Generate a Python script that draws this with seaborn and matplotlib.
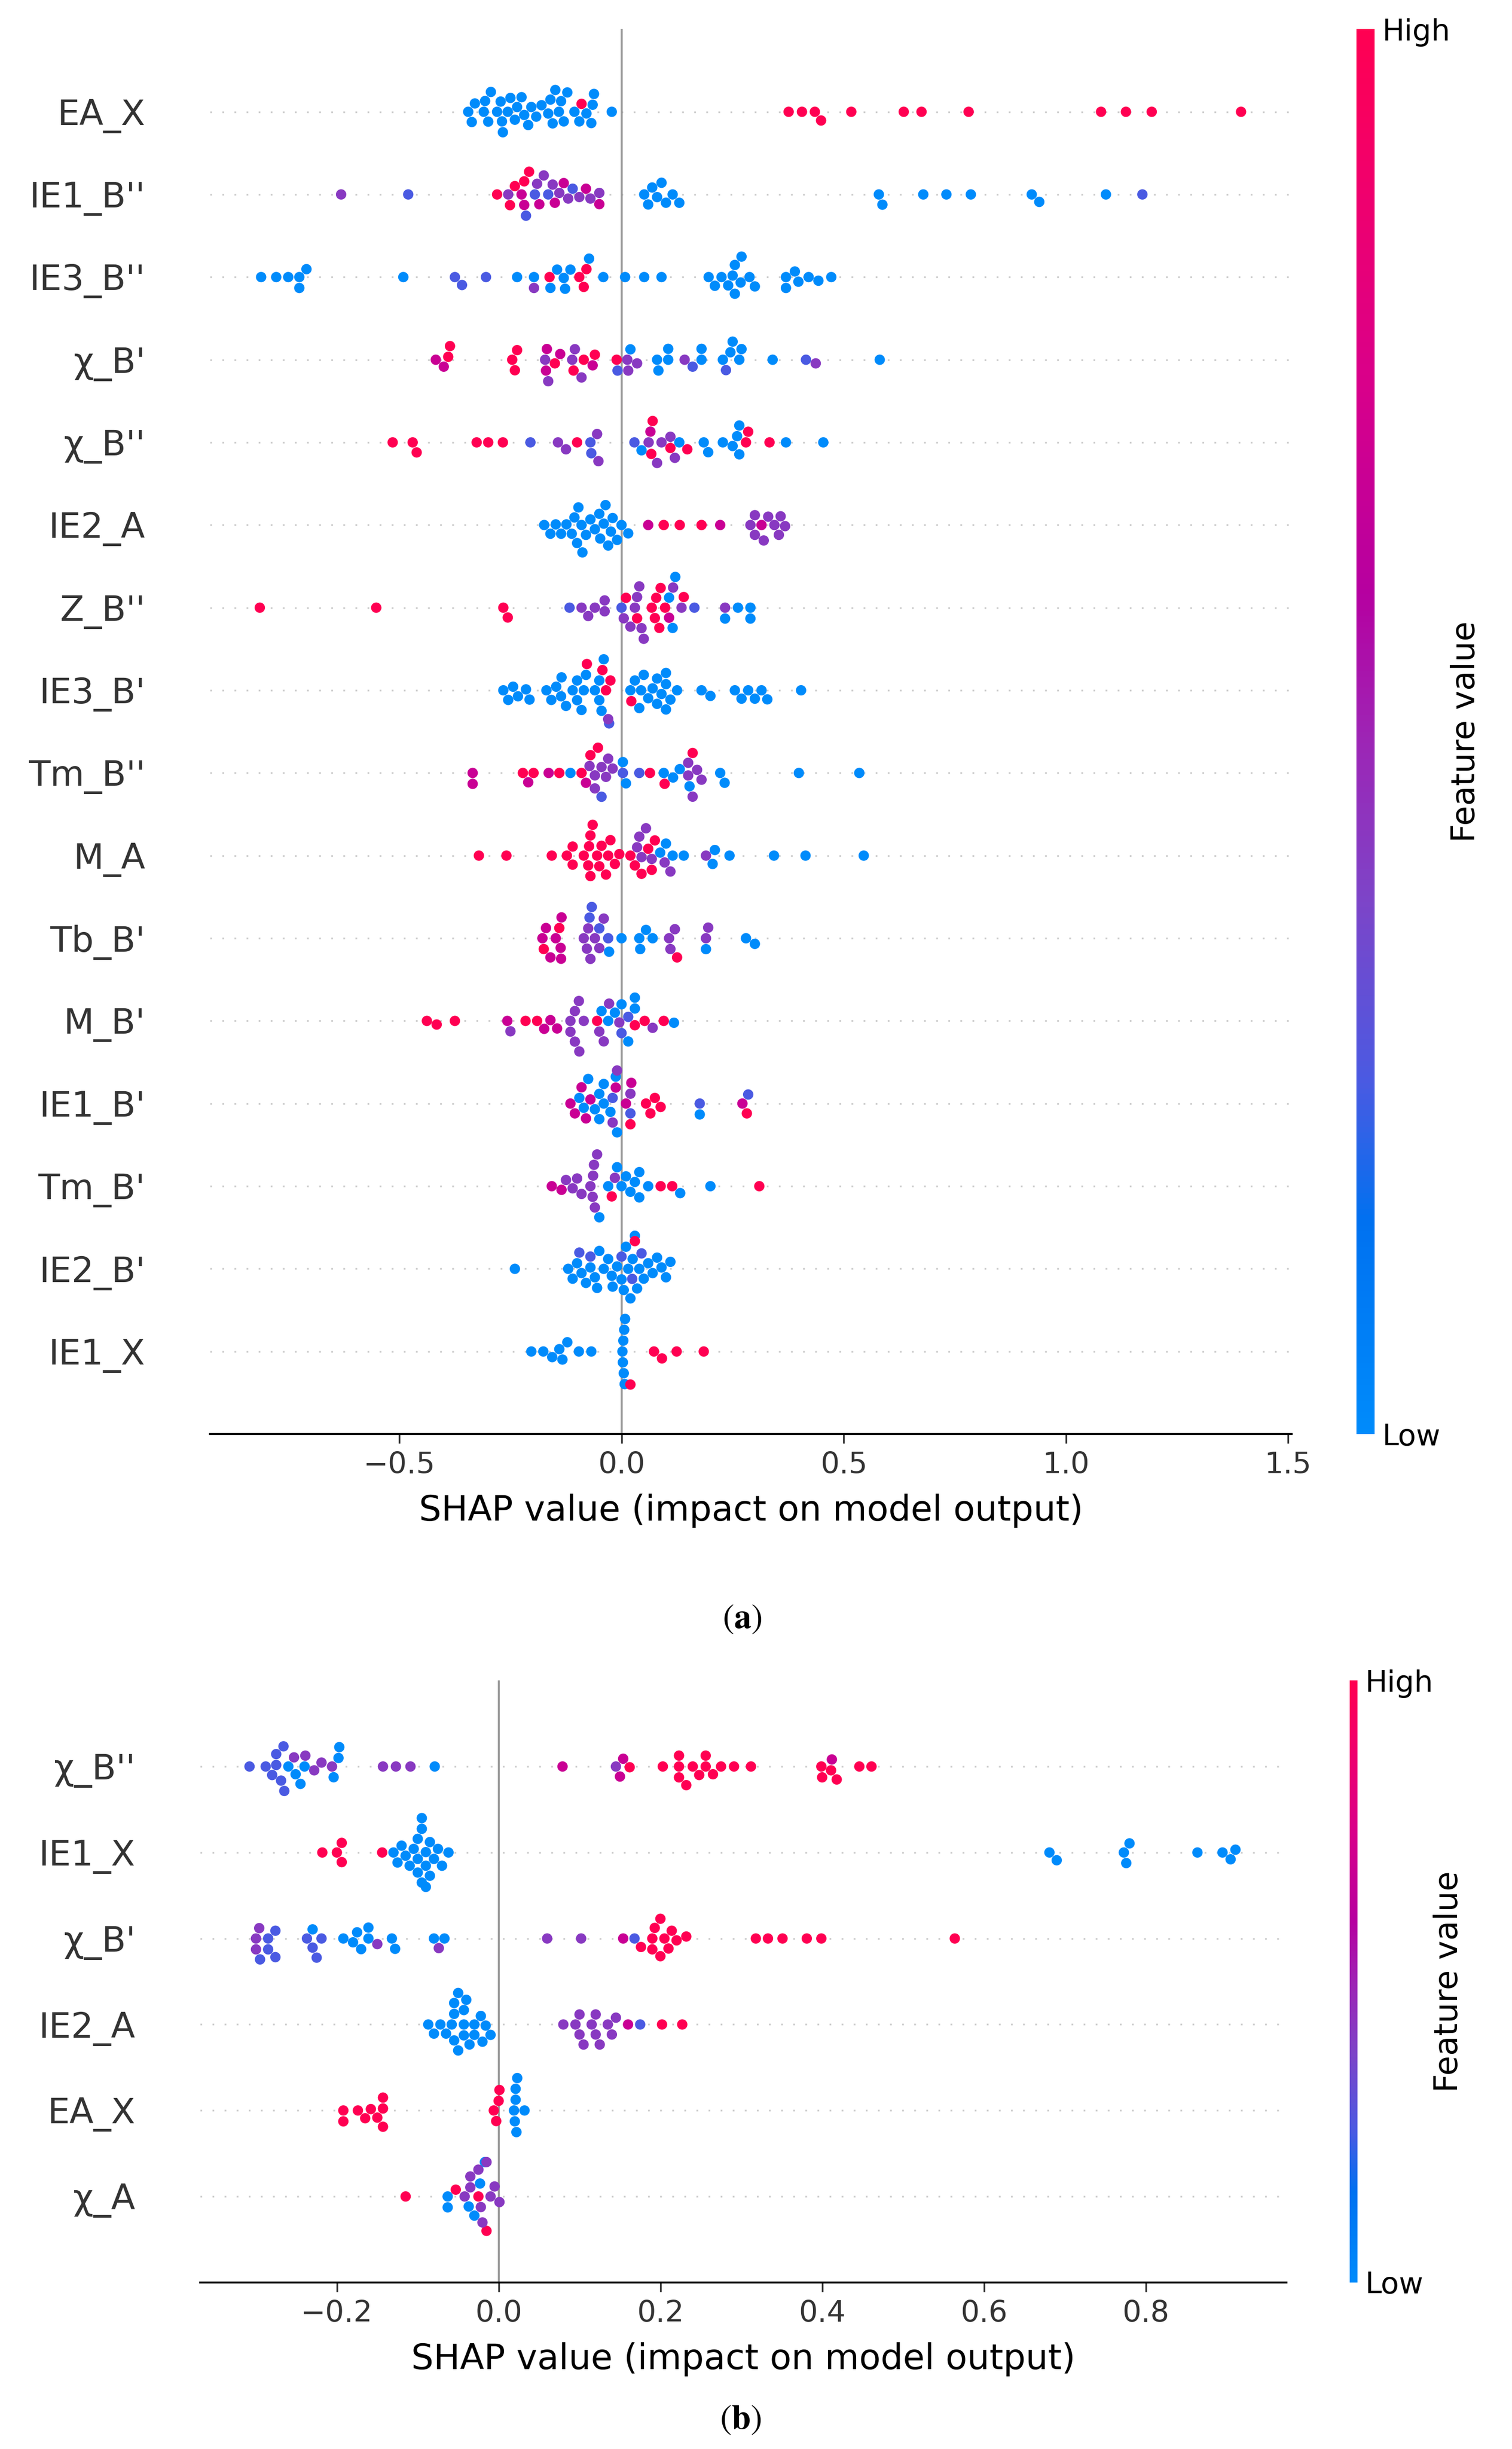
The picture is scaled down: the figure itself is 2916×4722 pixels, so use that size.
import warnings
import pandas as pd
import seaborn as sns
import matplotlib
matplotlib.use('Agg')
import matplotlib.pyplot as plt
from matplotlib.colors import LinearSegmentedColormap, Normalize
from matplotlib.cm import ScalarMappable

warnings.filterwarnings('ignore')
plt.rcParams['font.family'] = ['DejaVu Sans']
plt.rcParams['mathtext.fontset'] = 'stix'

# feature value levels (colour of a dot): low, low-mid, mid, high-mid, high
LO, LV, MI, MG, HI = 0.0, 0.25, 0.42, 0.68, 1.0


def pts(level, *shaps):
    return [(s, level) for s in shaps]


# ---------------- panel (a) ----------------
a_ea_x = pts(LO, -0.345, -0.337, -0.33, -0.31, -0.307, -0.30, -0.294, -0.28, -0.272, -0.269,
             -0.267, -0.256, -0.25, -0.24, -0.235, -0.225, -0.219, -0.21, -0.203, -0.192,
             -0.18, -0.165, -0.16, -0.155, -0.149, -0.141, -0.136, -0.13, -0.122, -0.106,
             -0.095, -0.079, -0.068, -0.065, -0.062, -0.022) + \
    pts(HI, -0.09, 0.376, 0.406, 0.435, 0.449, 0.517, 0.635, 0.675, 0.781, 1.079, 1.135, 1.193, 1.394)

a_ie1_b2 = pts(MI, -0.631, -0.255, -0.19, -0.175, -0.155, -0.14, -0.12, -0.095, -0.07, -0.05) + \
    pts(LV, -0.48, -0.215, -0.195, -0.165, -0.11) + \
    pts(MG, -0.225, -0.185, -0.15, -0.13, -0.08, -0.05, -0.219) + \
    pts(HI, -0.28, -0.251, -0.24, -0.219, -0.208) + \
    pts(LO, 0.051, 0.06, 0.069, 0.08, 0.09, 0.10, 0.115, 0.13,
        0.579, 0.587, 0.679, 0.731, 0.786, 0.923, 0.94, 1.09) + \
    pts(LV, 1.172)

a_ie3_b2 = pts(LO, -0.811, -0.777, -0.75, -0.725, -0.725, -0.709, -0.491, -0.235, -0.197,
               -0.16, -0.145, -0.13, -0.127, -0.115, -0.073, -0.041, 0.008, 0.051, 0.09,
               0.196, 0.21, 0.225, 0.24, 0.25, 0.255, 0.255, 0.268, 0.27, 0.288, 0.30,
               0.37, 0.37, 0.39, 0.398, 0.421, 0.443, 0.472) + \
    pts(LV, -0.375, -0.359, -0.305) + \
    pts(MI, -0.197) + \
    pts(HI, -0.162, -0.095, -0.085, -0.079)

a_chi_b1 = pts(MG, -0.418, -0.40, -0.17, -0.168, -0.138, -0.065) + \
    pts(HI, -0.39, -0.386, -0.246, -0.24, -0.235, -0.15, -0.108, -0.085, -0.06, -0.011) + \
    pts(MI, -0.172, -0.165, -0.111, -0.105, -0.09, 0.013, 0.015, 0.035, 0.142, 0.437) + \
    pts(LV, -0.009, 0.16, 0.235, 0.415) + \
    pts(LO, 0.02, 0.08, 0.083, 0.105, 0.105, 0.18, 0.18, 0.228, 0.245, 0.25, 0.265, 0.27,
        0.34, 0.581)

a_chi_b2 = pts(HI, -0.515, -0.47, -0.461, -0.326, -0.30, -0.267, -0.1, 0.067, 0.07, 0.11,
               0.148, 0.28, 0.285, 0.333) + \
    pts(LV, -0.205, -0.07, -0.068, 0.029) + \
    pts(MI, -0.143, -0.125, -0.055, -0.052, 0.061, 0.08, 0.09, 0.11, 0.12) + \
    pts(MG, 0.065) + \
    pts(LO, 0.045, 0.13, 0.185, 0.195, 0.228, 0.25, 0.26, 0.265, 0.265, 0.37, 0.454)

a_ie2_a = pts(LO, -0.174, -0.16, -0.148, -0.136, -0.124, -0.112, -0.106, -0.10, -0.097, -0.09,
              -0.088, -0.08, -0.07, -0.06, -0.05, -0.048, -0.04, -0.036, -0.03, -0.024,
              -0.02, -0.01, 0.0, 0.015) + \
    pts(MG, 0.06, 0.222, 0.315) + \
    pts(HI, 0.095, 0.131, 0.18) + \
    pts(MI, 0.29, 0.30, 0.30, 0.32, 0.33, 0.344, 0.354, 0.358, 0.368)

a_z_b2 = pts(HI, -0.814, -0.552, -0.266, -0.256, 0.01, 0.035, 0.068, 0.075, 0.078, 0.085,
             0.088, 0.098, 0.14) + \
    pts(LV, -0.117, 0.0, 0.164) + \
    pts(MI, -0.09, -0.075, -0.06, -0.038, -0.038, 0.005, 0.02, 0.03, 0.035, 0.04, 0.045,
        0.05, 0.116, 0.135, 0.233) + \
    pts(MG, 0.107) + \
    pts(LO, 0.107, 0.115, 0.121, 0.233, 0.262, 0.29, 0.29)

a_ie3_b1 = pts(LO, -0.266, -0.255, -0.244, -0.233, -0.215, -0.207, -0.169, -0.158, -0.147,
               -0.136, -0.135, -0.125, -0.11, -0.10, -0.10, -0.09, -0.085, -0.08, -0.06,
               -0.05, -0.05, -0.045, -0.04, 0.02, 0.03, 0.04, 0.044, 0.05, 0.06, 0.07,
               0.08, 0.08, 0.09, 0.10, 0.10, 0.10, 0.11, 0.125, 0.18, 0.20, 0.255, 0.27,
               0.285, 0.30, 0.315, 0.328, 0.404) + \
    pts(LV, -0.028) + \
    pts(HI, -0.078, -0.043, -0.035, -0.025, 0.022) + \
    pts(MI, -0.03)

a_tm_b2 = pts(MG, -0.335, -0.335, -0.21, -0.164, -0.08) + \
    pts(HI, -0.222, -0.198, -0.14, -0.09, -0.07, -0.053, 0.064, 0.097, 0.16) + \
    pts(LO, -0.115, 0.003, 0.01, 0.095, 0.116, 0.131, 0.153, 0.222, 0.232, 0.399, 0.535) + \
    pts(MI, -0.072, -0.06, -0.06, -0.045, -0.035, -0.03, -0.02, 0.15, 0.15, 0.16, 0.17, 0.18) + \
    pts(LV, -0.045, 0.003, 0.04)

a_m_a = pts(HI, -0.321, -0.259, -0.157, -0.123, -0.11, -0.11, -0.085, -0.075, -0.073, -0.07,
            -0.07, -0.065, -0.055, -0.05, -0.045, -0.035, -0.03, -0.025, -0.015, -0.005,
            0.02, 0.03, 0.045, 0.06, 0.068, 0.075) + \
    pts(MI, 0.035, 0.04, 0.045, 0.055, 0.068, 0.097, 0.11, 0.19) + \
    pts(LO, 0.087, 0.10, 0.115, 0.14, 0.205, 0.21, 0.243, 0.343, 0.414, 0.545)

a_tb_b1 = pts(MG, -0.178, -0.17, -0.16, -0.148, -0.137, -0.136, -0.135) + \
    pts(HI, -0.175, -0.14, 0.125) + \
    pts(MI, -0.085, -0.078, -0.075, -0.07, -0.06, -0.05, -0.04, 0.107, 0.11, 0.12, 0.19, 0.195) + \
    pts(LV, -0.072, -0.067, -0.05, -0.03) + \
    pts(LO, -0.028, 0.0, 0.04, 0.042, 0.055, 0.07, 0.19, 0.28, 0.30)

a_m_b1 = pts(HI, -0.438, -0.416, -0.375, -0.216, -0.19, -0.055, 0.03, 0.052, 0.095) + \
    pts(MG, -0.257, -0.174, -0.16, -0.145) + \
    pts(MI, -0.25, -0.115, -0.115, -0.105, -0.105, -0.096, -0.095, -0.085, -0.05, -0.04,
        -0.028, -0.005, 0.07) + \
    pts(LV, 0.0, 0.015) + \
    pts(LO, -0.045, -0.03, -0.015, 0.0, 0.015, 0.03, 0.03, 0.118)

a_ie1_b1 = pts(MG, -0.115, -0.105, -0.09, -0.08, -0.07, -0.013, 0.01, 0.022, 0.272) + \
    pts(LV, -0.02, 0.02, 0.176, 0.285) + \
    pts(LO, -0.095, -0.085, -0.075, -0.06, -0.05, -0.05, -0.04, -0.04, -0.025, -0.013,
        -0.01, 0.176) + \
    pts(MI, -0.02, -0.01, 0.02) + \
    pts(HI, 0.02, 0.055, 0.065, 0.075, 0.088, 0.282)

a_tm_b1 = pts(MG, -0.157, -0.135) + \
    pts(MI, -0.125, -0.11, -0.10, -0.09, -0.07, -0.065, -0.064, -0.062, -0.06, -0.055, -0.015) + \
    pts(HI, -0.022, 0.088, 0.114, 0.31) + \
    pts(LO, -0.05, -0.03, -0.01, 0.0, 0.01, 0.02, 0.03, 0.04, 0.04, 0.06, 0.132, 0.2)

a_ie2_b1 = pts(LO, -0.24, -0.12, -0.11, -0.10, -0.09, -0.08, -0.07, -0.06, -0.055, -0.05,
               -0.04, -0.03, -0.022, -0.02, -0.01, 0.0, 0.005, 0.01, 0.015, 0.02, 0.025,
               0.03, 0.035, 0.04, 0.05, 0.06, 0.07, 0.08, 0.09, 0.10, 0.11) + \
    pts(LV, -0.095, -0.07, 0.0, 0.024, 0.045) + \
    pts(HI, 0.03)

a_ie1_x = pts(LO, -0.203, -0.176, -0.156, -0.14, -0.133, -0.122, -0.096, -0.068,
              0.002, 0.003, 0.004, 0.005, 0.006, 0.007, 0.008) + \
    pts(HI, 0.02, 0.073, 0.091, 0.124, 0.185)

top_features = ['EA_X', "IE1_B''", "IE3_B''", "χ_B'", "χ_B''", 'IE2_A', "Z_B''", "IE3_B'",
                "Tm_B''", 'M_A', "Tb_B'", "M_B'", "IE1_B'", "Tm_B'", "IE2_B'", 'IE1_X']
top_points = [a_ea_x, a_ie1_b2, a_ie3_b2, a_chi_b1, a_chi_b2, a_ie2_a, a_z_b2, a_ie3_b1,
              a_tm_b2, a_m_a, a_tb_b1, a_m_b1, a_ie1_b1, a_tm_b1, a_ie2_b1, a_ie1_x]

# ---------------- panel (b) ----------------
b_chi_b2 = pts(LV, -0.308, -0.288, -0.28, -0.275, -0.275, -0.269, -0.266, -0.265) + \
    pts(MI, -0.253, -0.239, -0.228, -0.219, -0.206, -0.143, -0.127, -0.109, 0.145) + \
    pts(LO, -0.26, -0.251, -0.245, -0.24, -0.204, -0.198, -0.197, -0.079) + \
    pts(MG, 0.079, 0.15, 0.154, 0.412) + \
    pts(HI, 0.162, 0.203, 0.223, 0.223, 0.223, 0.232, 0.24, 0.248, 0.256, 0.256, 0.265,
        0.275, 0.291, 0.312, 0.399, 0.40, 0.411, 0.418, 0.446, 0.461)

b_ie1_x = pts(HI, -0.218, -0.2, -0.194, -0.194, -0.144) + \
    pts(LO, -0.13, -0.125, -0.12, -0.115, -0.11, -0.105, -0.10, -0.10, -0.10, -0.095,
        -0.095, -0.095, -0.09, -0.09, -0.09, -0.085, -0.085, -0.08, -0.075, -0.07, -0.062,
        0.681, 0.69, 0.773, 0.776, 0.78, 0.864, 0.895, 0.905, 0.911)

b_chi_b1 = pts(MI, -0.30, -0.30, -0.296, -0.15, -0.074, 0.06, 0.102) + \
    pts(LV, -0.295, -0.285, -0.285, -0.276, -0.276, -0.237, -0.23, -0.225, -0.219, 0.168) + \
    pts(LO, -0.23, -0.192, -0.18, -0.175, -0.17, -0.161, -0.161, -0.132, -0.128, -0.08, -0.067) + \
    pts(MG, 0.154) + \
    pts(HI, 0.176, 0.19, 0.19, 0.193, 0.2, 0.2, 0.205, 0.21, 0.214, 0.22, 0.232, 0.318,
        0.333, 0.351, 0.381, 0.399, 0.564)

b_ie2_a = pts(LO, -0.087, -0.08, -0.072, -0.065, -0.058, -0.055, -0.055, -0.055, -0.05,
              -0.05, -0.043, -0.043, -0.043, -0.04, -0.036, -0.03, -0.03, -0.022, -0.02,
              -0.016, -0.01) + \
    pts(MI, 0.08, 0.095, 0.10, 0.10, 0.105, 0.115, 0.12, 0.12, 0.125, 0.135, 0.14, 0.145) + \
    pts(MG, 0.16) + \
    pts(LV, 0.175) + \
    pts(HI, 0.202, 0.227)

b_ea_x = pts(HI, -0.192, -0.192, -0.174, -0.165, -0.158, -0.15, -0.143, -0.143, -0.143,
             -0.006, -0.003, 0.0, 0.001) + \
    pts(LO, 0.019, 0.02, 0.021, 0.021, 0.022, 0.023, 0.032)

b_chi_a = pts(HI, -0.115, -0.053, -0.025, -0.015) + \
    pts(LO, -0.063, -0.063, -0.037, -0.03, -0.023, -0.017) + \
    pts(MI, -0.042, -0.035, -0.035, -0.025, -0.022, -0.02, -0.015, -0.01, -0.005, 0.001)

bottom_features = ["χ_B''", 'IE1_X', "χ_B'", 'IE2_A', 'EA_X', 'χ_A']
bottom_points = [b_chi_b2, b_ie1_x, b_chi_b1, b_ie2_a, b_ea_x, b_chi_a]

# shap-like red/blue colour map
shap_cmap = LinearSegmentedColormap.from_list('red_blue', [
    (0.0, '#008bfb'), (0.15, '#0071f0'), (0.25, '#4a5ae2'), (0.38, '#7d44c8'),
    (0.5, '#9f23b4'), (0.6, '#b600a0'), (0.75, '#d9008a'), (0.9, '#f2006a'), (1.0, '#ff0052')])
palette = {v: shap_cmap(v) for v in (LO, LV, MI, MG, HI)}


def make_df(features, points):
    rows = [(f, s, v) for f, p in zip(features, points) for s, v in p]
    return pd.DataFrame(rows, columns=['feature', 'shap', 'value'])


def summary(ax, cax, df, order, xlim, xticks):
    for i in range(len(order)):
        ax.axhline(i, color='#cccccc', lw=0.8, dashes=(1, 6), zorder=-1)
    ax.axvline(0, color='#999999', lw=0.9, zorder=-1)
    sns.swarmplot(data=df, x='shap', y='feature', hue='value', order=order,
                  palette=palette, size=4.8, linewidth=0, legend=False, ax=ax)
    ax.set_ylim(len(order), -1)
    ax.set_xlim(*xlim)
    ax.set_xticks(xticks)
    ax.set_ylabel('')
    ax.set_xlabel('SHAP value (impact on model output)', fontsize=16.3, labelpad=6.5)
    for side in ('top', 'right', 'left'):
        ax.spines[side].set_visible(False)
    ax.spines['bottom'].set_linewidth(0.9)
    ax.tick_params(axis='x', labelsize=13.75, color='#333333', labelcolor='#333333',
                   length=4.4, width=0.8)
    ax.tick_params(axis='y', labelsize=16.3, labelcolor='#333333', length=0, pad=30)
    ax.set_facecolor('white')

    sm = ScalarMappable(norm=Normalize(0, 1), cmap=shap_cmap)
    cb = plt.colorbar(sm, cax=cax, ticks=[0, 1])
    cb.set_ticklabels(['Low', 'High'])
    cb.ax.tick_params(labelsize=13.75, length=0)
    cb.set_label('Feature value', size=15, labelpad=0)
    cb.outline.set_visible(False)


fig = plt.figure(figsize=(9.72, 15.74), dpi=300)

ax_a = fig.add_axes([0.1389, 0.4144, 0.7154, 0.5737])
cax_a = fig.add_axes([0.8971, 0.4144, 0.012, 0.5737])
summary(ax_a, cax_a, make_df(top_features, top_points), top_features,
        (-0.926, 1.508), [-0.5, 0.0, 0.5, 1.0, 1.5])

ax_b = fig.add_axes([0.1324, 0.068, 0.7184, 0.2458])
cax_b = fig.add_axes([0.8927, 0.068, 0.0051, 0.2458])
summary(ax_b, cax_b, make_df(bottom_features, bottom_points), bottom_features,
        (-0.369, 0.974), [-0.2, 0.0, 0.2, 0.4, 0.6, 0.8])

fig.text(0.4907, 0.3393, r'$(\mathbf{a})$', fontsize=16, ha='center', va='center')
fig.text(0.4897, 0.0123, r'$(\mathbf{b})$', fontsize=16, ha='center', va='center')

fig.savefig('out.png', dpi=300, facecolor='white')
